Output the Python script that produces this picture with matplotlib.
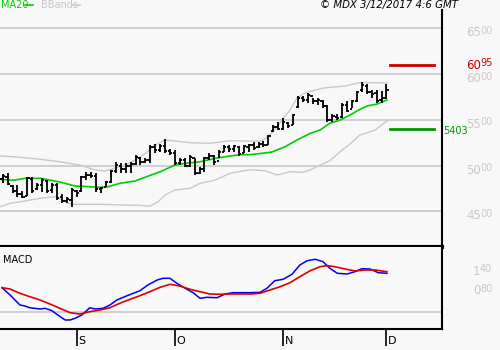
import matplotlib
matplotlib.use('Agg')
import matplotlib.pyplot as plt
import matplotlib.transforms as mtransforms

# daily OHLC, mid-August to 1 December
opens = [4850, 4880, 4780, 4720, 4690, 4670, 4850, 4740, 4790, 4830,
         4730, 4790, 4660, 4610, 4620, 4720, 4720, 4870, 4900, 4890,
         4740, 4770, 4820, 4940, 5000, 4960, 5000, 5020, 5080, 5040,
         5060, 5200, 5170, 5210, 5160, 5140, 5030, 5060, 5000, 5080,
         4920, 4960, 5080, 5100, 5050, 5150, 5200, 5180, 5200, 5140,
         5200, 5220, 5200, 5240, 5230, 5380, 5420, 5400, 5460, 5440,
         5640, 5740, 5720, 5760, 5700, 5710, 5650, 5500, 5530, 5530,
         5660, 5620, 5700, 5820, 5870, 5800, 5790, 5720, 5740]
highs = [4908, 4919, 4788, 4788, 4722, 4875, 4875, 4810, 4864, 4842,
         4810, 4810, 4690, 4657, 4755, 4733, 4886, 4930, 4930, 4919,
         4766, 4832, 4952, 5039, 5028, 5028, 5039, 5115, 5094, 5083,
         5225, 5236, 5236, 5290, 5181, 5170, 5083, 5083, 5115, 5083,
         4984, 5094, 5137, 5115, 5170, 5225, 5225, 5225, 5214, 5225,
         5236, 5257, 5257, 5268, 5334, 5443, 5476, 5520, 5476, 5563,
         5760, 5760, 5793, 5738, 5738, 5716, 5661, 5563, 5563, 5683,
         5705, 5716, 5814, 5913, 5891, 5825, 5825, 5814, 5891]
lows = [4810, 4788, 4700, 4657, 4646, 4668, 4700, 4733, 4711, 4700,
        4700, 4624, 4591, 4591, 4548, 4657, 4711, 4842, 4864, 4711,
        4700, 4766, 4810, 4919, 4919, 4919, 4919, 5006, 5006, 5028,
        5028, 5137, 5148, 5137, 5115, 5006, 5006, 4984, 4984, 4897,
        4908, 4930, 5061, 5006, 5083, 5148, 5148, 5148, 5105, 5137,
        5148, 5170, 5192, 5203, 5225, 5367, 5388, 5388, 5410, 5443,
        5629, 5694, 5683, 5672, 5661, 5629, 5476, 5476, 5498, 5520,
        5585, 5629, 5694, 5803, 5782, 5738, 5683, 5683, 5727]
closes = [4890, 4800, 4720, 4690, 4660, 4860, 4720, 4790, 4840, 4720,
          4790, 4650, 4610, 4640, 4730, 4700, 4870, 4900, 4890, 4740,
          4750, 4820, 4940, 5010, 4960, 5000, 5020, 5090, 5040, 5060,
          5200, 5170, 5210, 5160, 5140, 5030, 5060, 5000, 5090, 4920,
          4960, 5080, 5110, 5040, 5150, 5200, 5180, 5210, 5130, 5210,
          5220, 5190, 5240, 5220, 5320, 5420, 5400, 5480, 5430, 5550,
          5740, 5720, 5770, 5700, 5720, 5650, 5500, 5540, 5520, 5660,
          5600, 5700, 5800, 5880, 5800, 5780, 5700, 5740, 5830]

# 20-day moving average and Bollinger bands (bar position, price)
ma20_x = [-0.55, 1.5, 2.5, 4.5, 7.6, 9.6, 11.6, 14.7, 17.7, 19.8, 21.4, 23.8,
          26.9, 28.9, 32.0, 35.0, 37.1, 40.1, 43.2, 46.2, 48.2, 50.3, 52.7,
          54.7, 57.4, 59.8, 62.5, 64.5, 66.5, 68.6, 70.6, 72.6, 74.3, 75.9, 78.1]
ma20 = [4850, 4842, 4842, 4861, 4861, 4842, 4821, 4777, 4769, 4763, 4769, 4806,
        4832, 4872, 4933, 5006, 5025, 5042, 5079, 5105, 5119, 5119, 5134,
        5148, 5206, 5279, 5352, 5388, 5462, 5498, 5552, 5615, 5654, 5669, 5716]
bb_up_x = [-0.55, 3.5, 7.6, 11.6, 15.7, 18.8, 20.8, 22.8, 25.9, 27.9, 29.5, 31.0,
           33.0, 35.0, 38.1, 42.1, 46.2, 50.3, 52.7, 54.7, 56.8, 58.4, 59.8,
           61.4, 65.1, 69.6, 72.6, 78.1]
bb_up = [5105, 5091, 5069, 5042, 5006, 4952, 4941, 4970, 5031, 5091, 5152, 5225,
         5279, 5268, 5250, 5243, 5272, 5268, 5268, 5356, 5498, 5607, 5738,
         5793, 5847, 5869, 5907, 5902]
bb_lo_x = [-0.55, 1.5, 4.5, 7.6, 10.6, 12.1, 13.7, 15.7, 19.8, 24.9, 27.9, 29.9,
           31.6, 33.0, 35.0, 38.1, 40.1, 43.2, 46.2, 50.3, 53.3, 55.8, 58.4,
           61.0, 62.5, 64.5, 66.5, 68.6, 70.6, 72.6, 75.7, 78.1]
bb_lo = [4551, 4588, 4613, 4643, 4660, 4624, 4580, 4577, 4577, 4569, 4566, 4558,
         4605, 4679, 4733, 4752, 4806, 4842, 4916, 4955, 4944, 4897, 4933,
         4927, 4952, 5006, 5053, 5152, 5236, 5334, 5388, 5487]

# MACD and signal line
macd_x = [-0.14, 1.5, 2.5, 3.5, 4.5, 5.5, 7.6, 8.6, 10.0, 11.2, 12.7, 13.7, 14.7,
          16.1, 17.7, 18.8, 20.4, 21.8, 23.2, 25.3, 27.9, 29.5, 31.4, 32.6,
          34.0, 35.4, 37.1, 38.7, 40.1, 41.5, 43.6, 45.2, 46.8, 50.3, 52.3,
          53.7, 55.3, 57.0, 58.8, 60.4, 61.9, 63.5, 65.1, 66.5, 68.0, 70.0,
          71.6, 73.0, 74.7, 76.3, 78.1]
macd = [0.748, 0.523, 0.369, 0.215, 0.185, 0.132, 0.092, 0.114, 0.040, -0.092,
        -0.246, -0.246, -0.194, -0.092, 0.132, 0.092, 0.114, 0.215, 0.369,
        0.502, 0.655, 0.831, 0.985, 1.037, 1.037, 0.883, 0.729, 0.594, 0.422,
        0.452, 0.440, 0.554, 0.594, 0.594, 0.606, 0.729, 0.963, 1.006, 1.160,
        1.446, 1.578, 1.622, 1.548, 1.345, 1.191, 1.169, 1.240, 1.332, 1.323,
        1.209, 1.191]
signal_x = [-0.14, 1.5, 3.5, 5.5, 7.6, 9.6, 11.6, 13.7, 15.7, 17.7, 19.8, 21.8,
            23.8, 25.9, 27.9, 29.9, 32.0, 34.0, 36.0, 38.1, 40.1, 42.1, 44.2,
            46.2, 50.3, 52.3, 54.3, 56.4, 58.4, 60.4, 62.5, 64.5, 65.9, 67.5,
            69.6, 71.6, 73.6, 75.7, 78.1]
signal = [0.748, 0.708, 0.575, 0.471, 0.369, 0.246, 0.114, -0.022, -0.062, 0.009,
          0.062, 0.132, 0.268, 0.391, 0.502, 0.625, 0.760, 0.852, 0.800, 0.698,
          0.625, 0.554, 0.545, 0.554, 0.554, 0.575, 0.677, 0.778, 0.902, 1.086,
          1.271, 1.394, 1.425, 1.394, 1.323, 1.262, 1.292, 1.292, 1.240]

resistance = 6095
support = 5403
price_ticks = [4500, 5000, 5500, 6000, 6500]
macd_ticks = [1.40, 0.80]
months = ['S', 'O', 'N', 'D']
month_idx = [15, 35, 57, 78]

bg = '#f8f8f8'
grey = '#c8c8c8'


def split_label(axis, x, y, big, small, color, trans, size=8.5):
    # number drawn as a big part followed by smaller raised digits
    axis.text(x, y, big, transform=trans, color=color, fontsize=size,
              va='center', ha='left')
    off = mtransforms.offset_copy(trans, fig=fig, x=len(big) * 5.0 * size / 8.5,
                                  y=1.5, units='points')
    axis.text(x, y, small, transform=off, color=color, fontsize=size - 1.5,
              va='center', ha='left')


fig = plt.figure(figsize=(5, 3.5), dpi=100, facecolor=bg)
ax = fig.add_axes([0, 103 / 350, 442 / 500, 237 / 350], facecolor=bg)
ax2 = fig.add_axes([0, 21 / 350, 442 / 500, 82 / 350], facecolor=bg, sharex=ax)

# price panel
for t in price_ticks:
    ax.axhline(t, color=grey, lw=1.2, zorder=1)
ax.plot(bb_up_x, bb_up, color=grey, lw=1, zorder=2)
ax.plot(bb_lo_x, bb_lo, color=grey, lw=1, zorder=2)
ax.plot(ma20_x, ma20, color='#00cc00', lw=1.2, zorder=3)

idx = list(range(len(closes)))
ax.vlines(idx, lows, highs, color='black', lw=1.3, zorder=4)
ax.hlines(opens, [i - 0.45 for i in idx], idx, color='black', lw=1.3, zorder=4)
ax.hlines(closes, idx, [i + 0.45 for i in idx], color='black', lw=1.3, zorder=4)

ax.axhline(resistance, xmin=0.882, xmax=0.982, color='#cc0000', lw=2)
ax.axhline(support, xmin=0.882, xmax=0.982, color='#009900', lw=2)

ax.set_xlim(-2.7 / 4.92, (442 - 2.7) / 4.92)
ax.set_ylim(4111, 6699)

yt = mtransforms.blended_transform_factory(ax.transAxes, ax.transData)
for t in price_ticks:
    s = f'{t:d}'
    split_label(ax, 1.055, t - 50, s[:2], s[2:], grey, yt)
s = f'{resistance:d}'
split_label(ax, 1.055, resistance, s[:2], s[2:], '#cc0000', yt)
ax.text(1.002, support - 20, f'{support:d}', transform=yt,
        color='#009900', fontsize=7, va='center', ha='left')

for side in ['top', 'left']:
    ax.spines[side].set_visible(False)
ax.spines['right'].set_linewidth(1.5)
ax.spines['bottom'].set_linewidth(3)
ax.tick_params(left=False, right=False, bottom=False, labelleft=False, labelbottom=False)

# MACD panel
ax2.axhline(0, color=grey, lw=1.2)
ax2.plot(macd_x, macd, color='#0000ee', lw=1.1)
ax2.plot(signal_x, signal, color='#dd0000', lw=1.2)
ax2.set_ylim(-17 / 32.5, 65 / 32.5)
yt2 = mtransforms.blended_transform_factory(ax2.transAxes, ax2.transData)
for t in macd_ticks:
    s = f'{t:.2f}'
    split_label(ax2, 1.07, t - 0.15, s[0], s[2:], grey, yt2)
ax2.text(0.007, 0.84, 'MACD', transform=ax2.transAxes, fontsize=7, va='center')

for side in ['top', 'left']:
    ax2.spines[side].set_visible(False)
ax2.spines['right'].set_linewidth(1.5)
ax2.spines['bottom'].set_linewidth(1.5)
ax2.set_xticks(month_idx)
ax2.set_xticklabels([])
ax2.tick_params(axis='x', direction='out', length=12, width=1.2, color='black')
ax2.tick_params(left=False, labelleft=False)
xt = mtransforms.blended_transform_factory(ax2.transData, ax2.transAxes)
for m, i in zip(months, month_idx):
    ax2.text(i + 0.35, -0.21, m, transform=xt, fontsize=8, va='bottom', ha='left')

# header
fig.text(0.002, 0.985, 'MA20', color='#00cc00', fontsize=7, va='center')
fig.lines.append(plt.Line2D([25 / 500, 33 / 500], [0.985, 0.985], color='#00cc00',
                            lw=1.2, transform=fig.transFigure))
fig.text(41 / 500, 0.985, 'BBands', color=grey, fontsize=7, va='center')
fig.lines.append(plt.Line2D([72 / 500, 80 / 500], [0.985, 0.985], color=grey,
                            lw=1.2, transform=fig.transFigure))
fig.text(320 / 500, 0.987, '© MDX 3/12/2017 4:6 GMT', fontsize=7.3,
         style='italic', va='center')

fig.savefig('out.png', dpi=100, facecolor=bg)
